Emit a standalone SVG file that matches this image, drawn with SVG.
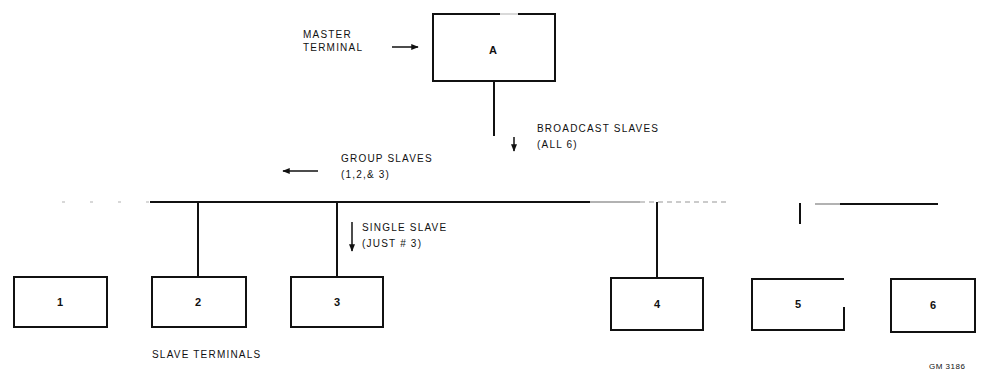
<svg xmlns="http://www.w3.org/2000/svg" width="983" height="370" viewBox="0 0 983 370">
<defs>
<style>
.t{font-family:"Liberation Sans",Arial,sans-serif;font-size:10px;letter-spacing:1.2px;fill:#111}
.n{font-family:"Liberation Sans",Arial,sans-serif;font-size:11px;font-weight:bold;fill:#111;text-anchor:middle}
.b{fill:none;stroke:#111;stroke-width:2}
.l{fill:none;stroke:#111;stroke-width:2}
.a{fill:none;stroke:#111;stroke-width:1.5}
</style>
<marker id="ah" viewBox="0 0 10 10" refX="9" refY="5" markerWidth="5" markerHeight="5" orient="auto-start-reverse">
<path d="M0,1 L10,5 L0,9 z" fill="#111"/>
</marker>
</defs>
<rect width="983" height="370" fill="#fff"/>
<g id="connectors">
<line class="l" x1="494" y1="81" x2="494" y2="136"/>
<line class="l" x1="150" y1="202" x2="590" y2="202"/>
<line x1="590" y1="202" x2="640" y2="202" stroke="#999" stroke-width="1.5"/>
<line x1="640" y1="202" x2="730" y2="202" stroke="#bbb" stroke-width="1.5" stroke-dasharray="5 4"/>
<line x1="62" y1="202" x2="150" y2="202" stroke="#ccc" stroke-width="1.5" stroke-dasharray="3 25"/>
<line class="l" x1="198" y1="202" x2="198" y2="277"/>
<line class="l" x1="337" y1="202" x2="337" y2="277"/>
<line class="l" x1="657" y1="202" x2="657" y2="278"/>
<line class="l" x1="800" y1="203" x2="800" y2="224"/>
<line x1="815" y1="204" x2="840" y2="204" stroke="#999" stroke-width="1.5"/>
<line class="l" x1="840" y1="204" x2="938" y2="204"/>
<line class="a" x1="392" y1="47" x2="418" y2="47" marker-end="url(#ah)"/>
<line class="a" x1="514" y1="137" x2="514" y2="151" marker-end="url(#ah)"/>
<line class="a" x1="318" y1="171" x2="283" y2="171" marker-end="url(#ah)"/>
<line class="a" x1="352" y1="222" x2="352" y2="251" marker-end="url(#ah)"/>
</g>
<g id="nodeA">
<path class="b" d="M500,14 L433,14 L433,81 L555,81 L555,14 L518,14"/>
<line x1="500" y1="14" x2="518" y2="14" stroke="#ccc" stroke-width="1.5"/>
<text class="n" x="493" y="54">A</text>
</g>
<g id="node1">
<rect class="b" x="14" y="277" width="93" height="50"/>
<text class="n" x="60" y="306">1</text>
</g>
<g id="node2">
<rect class="b" x="152" y="277" width="94" height="50"/>
<text class="n" x="198" y="306">2</text>
</g>
<g id="node3">
<rect class="b" x="291" y="277" width="92" height="50"/>
<text class="n" x="337" y="306">3</text>
</g>
<g id="node4">
<rect class="b" x="611" y="278" width="92" height="52"/>
<text class="n" x="657" y="308">4</text>
</g>
<g id="node5">
<path class="b" d="M844,279 L752,279 L752,330 L844,330 L844,307"/>
<text class="n" x="798" y="308">5</text>
</g>
<g id="node6">
<rect class="b" x="891" y="279" width="84" height="53"/>
<text class="n" x="933" y="309">6</text>
</g>
<g id="labels">
<text class="t" x="303" y="38">MASTER</text>
<text class="t" x="303" y="51">TERMINAL</text>
<text class="t" x="537" y="132">BROADCAST SLAVES</text>
<text class="t" x="537" y="148">(ALL 6)</text>
<text class="t" x="341" y="162">GROUP SLAVES</text>
<text class="t" x="341" y="178">(1,2,&amp; 3)</text>
<text class="t" x="362" y="231">SINGLE SLAVE</text>
<text class="t" x="362" y="247">(JUST # 3)</text>
<text class="t" x="152" y="358">SLAVE  TERMINALS</text>
<text class="t" x="929" y="369" style="font-size:8px;letter-spacing:0.5px">GM 3186</text>
</g>
</svg>
